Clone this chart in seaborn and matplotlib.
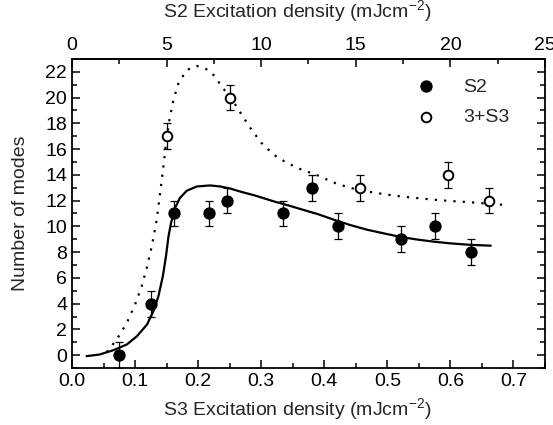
import matplotlib
matplotlib.use("Agg")
import matplotlib.pyplot as plt
from matplotlib.ticker import MultipleLocator
import seaborn as sns
import pandas as pd

# Measured mode counts (x in S3 excitation density, mJ/cm^2)
s2_x = [0.075, 0.125, 0.161, 0.217, 0.245, 0.334, 0.380, 0.422, 0.522, 0.575, 0.632]
s2_y = [0, 4, 11, 11, 12, 11, 13, 10, 9, 10, 8]
s3_x = [0.151, 0.250, 0.456, 0.596, 0.661]
s3_y = [17, 20, 13, 14, 12]
err = 1.0

# Fitted curves
fit_s2_x = [0.023, 0.044, 0.066, 0.087, 0.103, 0.119, 0.129, 0.137, 0.144, 0.149,
            0.153, 0.157, 0.1635, 0.171, 0.182, 0.198, 0.219, 0.235, 0.250, 0.267,
            0.290, 0.320, 0.345, 0.362, 0.390, 0.415, 0.440, 0.468, 0.495, 0.521,
            0.547, 0.574, 0.600, 0.627, 0.645, 0.664]
fit_s2_y = [-0.08, 0.05, 0.39, 0.83, 1.47, 2.38, 3.41, 4.57, 6.12, 7.67,
            9.22, 10.26, 11.43, 12.2, 12.77, 13.1, 13.18, 13.1, 12.95, 12.7,
            12.4, 11.94, 11.6, 11.35, 10.95, 10.52, 10.12, 9.74, 9.45, 9.18,
            8.98, 8.81, 8.68, 8.58, 8.54, 8.5]
fit_s3_x = [0.055, 0.071, 0.087, 0.100, 0.1106, 0.1185, 0.1265, 0.1344, 0.1397, 0.145,
            0.149, 0.1545, 0.1608, 0.1688, 0.182, 0.198, 0.2164, 0.2296, 0.235, 0.245,
            0.256, 0.270, 0.283, 0.300, 0.320, 0.340, 0.362, 0.390, 0.415, 0.440,
            0.468, 0.495, 0.521, 0.547, 0.574, 0.600, 0.627, 0.655, 0.682]
fit_s3_y = [0.23, 1.22, 2.51, 3.93, 5.35, 6.77, 8.45, 10.52, 12.59, 14.65,
            16.47, 18.27, 19.82, 21.12, 22.15, 22.46, 22.15, 21.5, 20.98, 20.4,
            19.69, 18.6, 17.63, 16.5, 15.56, 14.95, 14.45, 13.95, 13.4, 13.0,
            12.71, 12.5, 12.33, 12.2, 12.07, 11.97, 11.89, 11.78, 11.68]

sns.set_style("ticks")
plt.rcParams["font.family"] = ["Liberation Sans", "DejaVu Sans"]
plt.rcParams["mathtext.fontset"] = "custom"
plt.rcParams["mathtext.rm"] = "Liberation Sans"

FS = 14
fig = plt.figure(figsize=(5.53, 4.25), dpi=100)
ax = fig.add_axes([0.1302, 0.1341, 0.8553, 0.7271])

fit1 = pd.DataFrame({"x": fit_s2_x, "y": fit_s2_y})
fit2 = pd.DataFrame({"x": fit_s3_x, "y": fit_s3_y})
sns.lineplot(data=fit1, x="x", y="y", sort=False, color="black", lw=1.6, ax=ax)
sns.lineplot(data=fit2, x="x", y="y", sort=False, color="black", lw=1.6, ax=ax,
             linestyle=(0, (1, 3.2)))

ax.errorbar(s2_x, s2_y, yerr=err, fmt="none", ecolor="black", elinewidth=0.9,
            capsize=3, capthick=0.9, zorder=3)
ax.errorbar(s3_x, s3_y, yerr=err, fmt="none", ecolor="black", elinewidth=0.9,
            capsize=3, capthick=0.9, zorder=3)

pts1 = pd.DataFrame({"x": s2_x, "y": s2_y})
pts2 = pd.DataFrame({"x": s3_x, "y": s3_y})
sns.scatterplot(data=pts1, x="x", y="y", ax=ax, s=62, color="black",
                edgecolor="black", linewidth=1, label="S2", zorder=4)
sns.scatterplot(data=pts2, x="x", y="y", ax=ax, s=48, facecolor="white",
                edgecolor="black", linewidth=1.4, label="3+S3", zorder=4)

ax.set_xlim(0, 0.75)
ax.set_ylim(-1, 23)
ax.xaxis.set_minor_locator(MultipleLocator(0.05))
ax.yaxis.set_major_locator(MultipleLocator(2))
ax.yaxis.set_minor_locator(MultipleLocator(1))
ax.set_xticks([0.0, 0.1, 0.2, 0.3, 0.4, 0.5, 0.6, 0.7])
ax.set_xticklabels(["0.0", "0.1", "0.2", "0.3", "0.4", "0.5", "0.6", "0.7"])

for s in ax.spines.values():
    s.set_visible(True)
    s.set_linewidth(1.3)
    s.set_color("black")

ax.tick_params(which="both", direction="in", right=True, top=False,
               labelsize=FS, colors="black", width=1.1)
ax.tick_params(which="major", length=6)
ax.tick_params(which="minor", length=3.5)

ax.set_xlabel("S3 Excitation density (mJcm$^{-2}$)", fontsize=FS)
ax.xaxis.set_label_coords(0.476, -0.136)
ax.xaxis.label.set_va("center")
ax.set_ylabel("Number of modes", fontsize=FS)
ax.yaxis.set_label_coords(-0.108, 0.5)
ax.yaxis.label.set_va("center")

top = ax.secondary_xaxis("top", functions=(lambda v: v * 100 / 3, lambda v: v * 3 / 100))
top.xaxis.set_major_locator(MultipleLocator(5))
top.xaxis.set_minor_locator(MultipleLocator(2.5))
top.tick_params(which="both", direction="in", labelsize=FS, colors="black", width=1.1)
top.tick_params(which="major", length=6)
top.tick_params(which="minor", length=3.5)
top.set_xlabel("S2 Excitation density (mJcm$^{-2}$)", fontsize=FS)
top.xaxis.set_label_coords(0.476, 1.152, transform=ax.transAxes)
top.xaxis.label.set_va("center")
top.spines["top"].set_linewidth(1.3)

leg = ax.legend(loc="upper left", bbox_to_anchor=(0.691, 0.964), frameon=False,
                fontsize=FS, handletextpad=0.9, labelspacing=0.65,
                borderaxespad=0)

fig.savefig("out.png", dpi=100)
